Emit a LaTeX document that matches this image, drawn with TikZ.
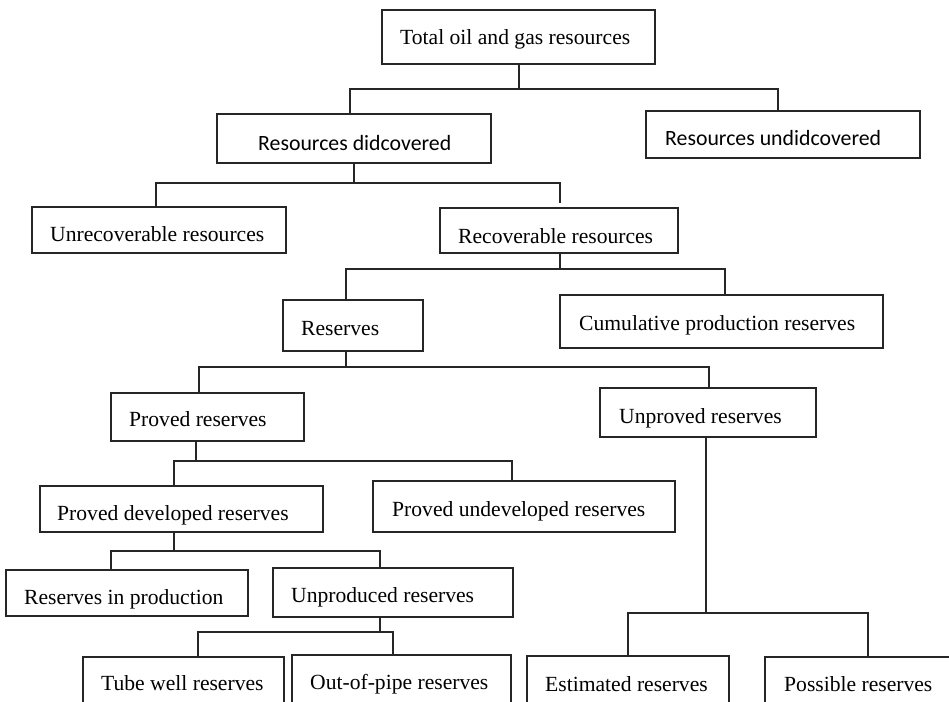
\documentclass[tikz,border=0pt]{standalone}
\usepackage{fontspec}
\setmainfont{Liberation Serif}
\newfontfamily\calfont{Carlito}
\begin{document}
\begin{tikzpicture}[x=1pt,y=-1pt,
  box/.style={draw=black!85, line width=1.3pt, fill=white, inner sep=0pt},
  txt/.style={anchor=base west, inner sep=0pt, font=\fontsize{21.6}{24}\selectfont},
  stxt/.style={anchor=base west, inner sep=0pt, font=\calfont\fontsize{21.8}{24}\selectfont},
  con/.style={draw=black!85, line width=1.1pt}]
\useasboundingbox (0,0) rectangle (949,701);
\clip (0,0) rectangle (949,701);
% boxes (corner-defined)
\newcommand{\mybox}[5]{\node[box, minimum width={#4-#2}, minimum height={#5-#3}] (#1) at ({(#2+#4)/2},{(#3+#5)/2}) {};}
\mybox{total}{382}{10}{655}{64}
\mybox{disc}{217}{114}{491}{163}
\mybox{undisc}{646}{111}{920}{158}
\mybox{unrec}{32}{207}{286}{253}
\mybox{rec}{440}{208}{678}{253}
\mybox{res}{283}{300}{423}{351}
\mybox{cum}{560}{295}{883}{348}
\mybox{proved}{111}{393}{304}{441}
\mybox{unproved}{600}{388}{816}{437}
\mybox{pdev}{40}{486}{323}{532}
\mybox{pundev}{373}{481}{675}{532}
\mybox{inprod}{6}{570}{248}{616}
\mybox{unprod}{273}{568}{513}{617}
\mybox{tube}{83}{657}{284}{712}
\mybox{pipe}{292}{655}{511}{712}
\mybox{est}{527}{656}{729}{712}
\mybox{poss}{765}{657}{965}{712}
% texts
\node[txt] (t1) at (400,45) {Total oil and gas resources};
\node[stxt] (t2) at (258,150) {Resources didcovered};
\node[stxt] (t3) at (665,145) {Resources undidcovered};
\node[txt] (t4) at (50,241) {Unrecoverable resources};
\node[txt] (t5) at (458,243) {Recoverable resources};
\node[txt] (t6) at (301,335) {Reserves};
\node[txt] (t7) at (579,330) {Cumulative production reserves};
\node[txt] (t8) at (129,426) {Proved reserves};
\node[txt] (t9) at (619,423) {Unproved reserves};
\node[txt] (t10) at (57,520) {Proved developed reserves};
\node[txt] (t11) at (392,516) {Proved undeveloped reserves};
\node[txt] (t12) at (24,604) {Reserves in production};
\node[txt] (t13) at (291,602) {Unproduced reserves};
\node[txt] (t14) at (101,690) {Tube well reserves};
\node[txt] (t15) at (310,689) {Out-of-pipe reserves};
\node[txt] (t16) at (545,691) {Estimated reserves};
\node[txt] (t17) at (784,691) {Possible reserves};
% connectors
\coordinate (recgap) at (560,203);
\draw[con] (total.south -| 519,0) -- (519,89) -- (350,89) -- (disc.north -| 350,0);
\draw[con] (519,89) -- (778,89) -- (undisc.north -| 778,0);
\draw[con] (disc.south -| 354,0) -- (354,183) -- (156,183) -- (unrec.north -| 156,0);
\draw[con] (354,183) -- (560,183) -- (recgap);
\draw[con] (rec.south -| 560,0) -- (560,269) -- (346,269) -- (res.north -| 346,0);
\draw[con] (560,269) -- (725,269) -- (cum.north -| 725,0);
\draw[con] (res.south -| 346,0) -- (346,367) -- (199,367) -- (proved.north -| 199,0);
\draw[con] (346,367) -- (709,367) -- (unproved.north -| 709,0);
\draw[con] (proved.south -| 196,0) -- (196,461) -- (174,461) -- (pdev.north -| 174,0);
\draw[con] (196,461) -- (512,461) -- (pundev.north -| 512,0);
\draw[con] (pdev.south -| 174,0) -- (174,551) -- (111,551) -- (inprod.north -| 111,0);
\draw[con] (174,551) -- (380,551) -- (unprod.north -| 380,0);
\draw[con] (unprod.south -| 380,0) -- (380,632) -- (198,632) -- (tube.north -| 198,0);
\draw[con] (380,632) -- (393,632) -- (pipe.north -| 393,0);
\draw[con] (unproved.south -| 706,0) -- (706,613) -- (628,613) -- (est.north -| 628,0);
\draw[con] (706,613) -- (868,613) -- (poss.north -| 868,0);
\end{tikzpicture}
\end{document}
